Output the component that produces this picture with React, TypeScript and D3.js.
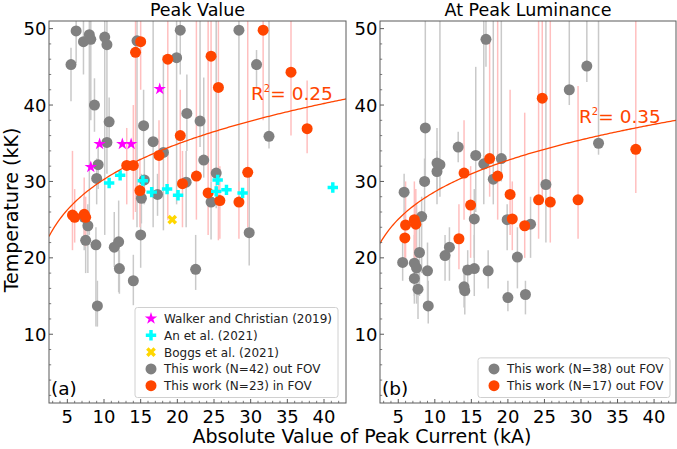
import React from "react";
import * as d3 from "d3";

const W = 677;
const H = 449;
const X_DOMAIN: [number, number] = [2.5, 43];
const Y_DOMAIN: [number, number] = [1, 51];
const X_TICKS = [5, 10, 15, 20, 25, 30, 35, 40];
const Y_TICKS = [10, 20, 30, 40, 50];

// [peak current (kA), temperature (kK), lower bound, upper bound]
type Obs = [number, number, number, number];

const peakOutFov: Obs[] = [
  [5.5, 45.3, 40.5, 47.5], [6.2, 49.7, 45.5, 51], [7.2, 48.3, 44, 51], [8.0, 49.2, 23, 51],
  [8.2, 48.6, 38, 51], [8.7, 40.0, 36.5, 43.5], [10.1, 48.9, 23, 51], [10.4, 47.9, 40, 51],
  [10.7, 37.8, 35, 41], [10.4, 35.1, 31, 40], [9.2, 32.2, 29, 35], [9.0, 30.4, 27, 33],
  [14.5, 48.4, 24, 51], [15.4, 37.3, 33, 42], [15.5, 30.2, 27, 33], [15.1, 27.8, 24.5, 31],
  [16.7, 35.2, 24, 51], [18.1, 33.8, 23.6, 46.5], [17.3, 28.3, 25.5, 31], [19.9, 46.2, 27, 51],
  [20.4, 49.8, 44, 51], [21.3, 38.9, 34, 44], [21.2, 29.9, 24, 34], [23.1, 37.9, 34.5, 51],
  [23.6, 32.8, 30.5, 43.6], [25.3, 31.1, 26.5, 51], [24.6, 27.3, 22.4, 30], [28.4, 49.8, 27, 51],
  [30.8, 45.3, 42.3, 47.2], [32.5, 35.9, 34.3, 51], [7.8, 24.2, 18, 27], [7.5, 22.3, 18, 25],
  [8.9, 21.7, 11, 24], [9.1, 13.7, 11, 17], [11.4, 21.4, 18.8, 26], [12.0, 22.1, 15.5, 27.5],
  [12.1, 18.6, 15.3, 21], [14.0, 17.0, 13.8, 20.4], [15.0, 23.0, 18.7, 27], [22.5, 18.5, 15.8, 23],
  [29.8, 23.3, 19, 31], [7.3, 25.3, 21, 28],
];

const peakInFov: Obs[] = [
  [5.7, 25.6, 21, 34], [6.0, 25.3, 22, 29], [7.3, 25.7, 22.5, 30.5], [7.5, 25.3, 21.5, 28],
  [14.3, 46.9, 26, 51], [15.0, 48.3, 42, 51], [18.7, 46.0, 25, 51], [20.4, 36.0, 30, 42],
  [17.5, 33.4, 28, 38], [13.1, 32.1, 27, 37], [14.0, 32.1, 25, 40], [14.9, 28.8, 24, 33],
  [20.7, 29.7, 24, 34], [22.6, 30.7, 25, 51], [24.2, 28.5, 23, 51], [24.6, 46.4, 30, 51],
  [25.6, 42.3, 22.3, 51], [25.8, 27.5, 22.5, 32], [28.4, 27.3, 22.5, 30], [29.6, 31.2, 24, 51],
  [31.7, 49.8, 38, 51], [35.5, 44.3, 36, 51], [37.7, 36.9, 33.7, 43.2],
];

const walker: [number, number][] = [
  [8.2, 31.9], [9.4, 34.9], [12.5, 34.9], [13.7, 34.9], [17.6, 42.1],
];

const anEtAl: [number, number][] = [
  [10.7, 29.8], [12.2, 30.8], [15.3, 30.1], [16.5, 28.6], [18.6, 29.0], [20.1, 28.2],
  [25.5, 30.2], [25.3, 28.7], [26.7, 28.9], [28.9, 28.5], [41.2, 29.2],
];

const boggs: [number, number][] = [[19.3, 25.0]];

const lumOutFov: Obs[] = [
  [5.8, 28.6, 25, 31], [8.6, 30.0, 26, 33], [8.7, 37.0, 30, 51], [10.3, 32.4, 29, 37],
  [10.7, 32.2, 28, 51], [10.3, 31.3, 27, 34], [13.2, 34.5, 32.5, 36.5], [15.6, 33.4, 26, 45],
  [16.7, 32.3, 27, 51], [17.0, 48.6, 45, 51], [19.1, 33.0, 30, 51], [18.0, 30.3, 27, 51],
  [8.2, 25.4, 18, 28], [5.6, 19.4, 17, 22], [7.2, 19.3, 15, 23], [7.5, 18.7, 14, 27],
  [7.2, 17.3, 14, 20], [7.9, 20.7, 15, 25], [7.7, 15.9, 12, 19], [9.0, 18.3, 13, 22],
  [9.1, 13.7, 11.4, 17], [11.4, 20.3, 17, 23], [12.0, 21.4, 17, 24], [14.0, 16.2, 13.5, 19],
  [14.1, 15.7, 12.6, 19], [14.5, 18.4, 15, 21], [15.4, 18.6, 15, 23], [15.4, 25.1, 20, 29],
  [17.3, 18.3, 16, 21], [19.9, 25.0, 21, 27], [20.0, 14.8, 13, 17], [21.3, 20.1, 16, 24],
  [22.4, 15.2, 12.6, 17], [23.1, 24.4, 20, 28], [25.2, 29.6, 22, 51], [28.4, 42.0, 40, 51],
  [30.8, 45.1, 43, 51], [32.4, 35.0, 33.5, 51],
];

const lumInFov: Obs[] = [
  [14.0, 31.1, 25, 38], [17.5, 33.0, 28, 49], [18.6, 30.7, 25, 51], [20.3, 28.3, 23, 42],
  [14.9, 26.9, 20, 32], [6.0, 24.3, 20, 30], [5.9, 22.6, 20, 26], [7.2, 25.0, 20, 30],
  [7.4, 24.4, 19, 29], [13.3, 22.5, 18.5, 27], [20.6, 25.1, 21, 30], [22.3, 24.2, 20, 39],
  [24.7, 40.9, 27, 51], [37.5, 34.2, 28.5, 51], [24.2, 27.6, 22.5, 51], [25.8, 27.3, 22, 51],
  [29.6, 27.6, 22.5, 42.5],
];

// Power-law fits T = a * I^b
const fitPeak = { a: 18.9, b: 0.2046, r2: "0.25" };
const fitLum = { a: 18.34, b: 0.1937, r2: "0.35" };

const GRAY = "#808080";
const RED = "#ff4500";
const GRAY_ERR = "#c9c9c9";
const RED_ERR = "#ffbfbf";
const FRAME = "#5a5a5a";
const FONT = "DejaVu Sans, sans-serif";

const TOP = 21;
const BOTTOM = 403;

const starPath = d3.symbol().type(d3.symbolStar).size(48)()!;
const plusPath = d3.symbol().type(d3.symbolCross).size(60)()!;
const circleR = 5.5;

type LegendItem = { label: string; kind: "star" | "plus" | "x" | "gray" | "red" };

const Marker = ({ kind, cx, cy }: { kind: LegendItem["kind"]; cx: number; cy: number }) => {
  if (kind === "star") return <path d={starPath} transform={`translate(${cx},${cy})`} fill="#ff00ff" />;
  if (kind === "plus") return <path d={plusPath} transform={`translate(${cx},${cy})`} fill="#00ffff" />;
  if (kind === "x") return <path d={plusPath} transform={`translate(${cx},${cy}) rotate(45)`} fill="#ffd700" />;
  return <circle cx={cx} cy={cy} r={circleR} fill={kind === "gray" ? GRAY : RED} />;
};

type PanelProps = {
  id: string;
  x0: number;
  x1: number;
  title: string;
  tag: string;
  out: Obs[];
  inn: Obs[];
  fit: { a: number; b: number; r2: string };
  r2x: number;
  r2y: number;
  legend: LegendItem[];
  legendX: number;
  legendW: number;
  extras?: boolean;
};

const Panel = (p: PanelProps) => {
  const x = d3.scaleLinear().domain(X_DOMAIN).range([p.x0, p.x1]);
  const y = d3.scaleLinear().domain(Y_DOMAIN).range([BOTTOM, TOP]);
  const fitXs = d3.range(X_DOMAIN[0], X_DOMAIN[1] + 0.01, 0.25);
  const fitLine = d3
    .line<number>()
    .x((d) => x(d))
    .y((d) => y(p.fit.a * Math.pow(d, p.fit.b)))(fitXs)!;
  const minorX = d3.range(3, 43).filter((v) => v % 5 !== 0);
  const minorY = d3.range(2, 51, 2).filter((v) => v % 10 !== 0);
  const rowH = 16.8;
  const legendH = p.legend.length * rowH + 6;
  const legendTop = 397.5 - legendH;

  return (
    <g>
      <defs>
        <clipPath id={p.id}>
          <rect x={p.x0} y={TOP} width={p.x1 - p.x0} height={BOTTOM - TOP} />
        </clipPath>
      </defs>
      <rect x={p.x0} y={TOP} width={p.x1 - p.x0} height={BOTTOM - TOP} fill="white" />
      <g clipPath={`url(#${p.id})`}>
        {p.out.map((d, i) => (
          <line key={`ge${i}`} x1={x(d[0])} x2={x(d[0])} y1={y(d[2])} y2={y(d[3])} stroke={GRAY_ERR} strokeWidth={1.5} />
        ))}
        {p.inn.map((d, i) => (
          <line key={`re${i}`} x1={x(d[0])} x2={x(d[0])} y1={y(d[2])} y2={y(d[3])} stroke={RED_ERR} strokeWidth={1.5} />
        ))}
        {p.out.map((d, i) => (
          <circle key={`g${i}`} cx={x(d[0])} cy={y(d[1])} r={circleR} fill={GRAY} />
        ))}
        {p.inn.map((d, i) => (
          <circle key={`r${i}`} cx={x(d[0])} cy={y(d[1])} r={circleR} fill={RED} />
        ))}
        {p.extras && (
          <g>
            {walker.map((d, i) => (
              <Marker key={`w${i}`} kind="star" cx={x(d[0])} cy={y(d[1])} />
            ))}
            {anEtAl.map((d, i) => (
              <Marker key={`a${i}`} kind="plus" cx={x(d[0])} cy={y(d[1])} />
            ))}
            {boggs.map((d, i) => (
              <Marker key={`b${i}`} kind="x" cx={x(d[0])} cy={y(d[1])} />
            ))}
          </g>
        )}
        <path d={fitLine} fill="none" stroke={RED} strokeWidth={1.3} />
      </g>
      <text x={p.r2x} y={p.r2y} fill={RED} fontSize={18.5} fontFamily={FONT}>
        R<tspan fontSize={10} dy={-8}>2</tspan>
        <tspan dy={8}>= {p.fit.r2}</tspan>
      </text>
      {/* axis frame */}
      <rect x={p.x0} y={TOP} width={p.x1 - p.x0} height={BOTTOM - TOP} fill="none" stroke={FRAME} strokeWidth={1} />
      {/* ticks pointing inward */}
      {X_TICKS.map((t) => (
        <g key={`xt${t}`}>
          <line x1={x(t)} x2={x(t)} y1={BOTTOM} y2={BOTTOM - 4} stroke={FRAME} />
          <text x={x(t)} y={422.5} textAnchor="middle" fontSize={18} fontFamily={FONT} fill="#000">
            {t}
          </text>
        </g>
      ))}
      {minorX.map((t) => (
        <line key={`xm${t}`} x1={x(t)} x2={x(t)} y1={BOTTOM} y2={BOTTOM - 2.2} stroke={FRAME} strokeWidth={0.8} />
      ))}
      {Y_TICKS.map((t) => (
        <g key={`yt${t}`}>
          <line x1={p.x0} x2={p.x0 + 4} y1={y(t)} y2={y(t)} stroke={FRAME} />
          <text x={p.x0 - 2.5} y={y(t) + 6.5} textAnchor="end" fontSize={18} fontFamily={FONT} fill="#000">
            {t}
          </text>
        </g>
      ))}
      {minorY.map((t) => (
        <line key={`ym${t}`} x1={p.x0} x2={p.x0 + 2.2} y1={y(t)} y2={y(t)} stroke={FRAME} strokeWidth={0.8} />
      ))}
      <text x={(p.x0 + p.x1) / 2} y={16} textAnchor="middle" fontSize={17.5} fontFamily={FONT} fill="#000">
        {p.title}
      </text>
      <text x={p.x0 + 2} y={395} fontSize={18.5} fontFamily={FONT} fill="#000">
        {p.tag}
      </text>
      {/* legend */}
      <rect
        x={p.legendX}
        y={legendTop}
        width={p.legendW}
        height={legendH}
        rx={2.5}
        fill="white"
        fillOpacity={0.85}
        stroke="#d0d0d0"
        strokeWidth={1}
      />
      {p.legend.map((item, i) => {
        const cy = legendTop + 11 + i * rowH;
        return (
          <g key={`lg${i}`}>
            <Marker kind={item.kind} cx={p.legendX + 16} cy={cy} />
            <text x={p.legendX + 29} y={cy + 4.5} fontSize={12} fontFamily={FONT} fill="#222">
              {item.label}
            </text>
          </g>
        );
      })}
    </g>
  );
};

const legendPeak: LegendItem[] = [
  { label: "Walker and Christian (2019)", kind: "star" },
  { label: "An et al. (2021)", kind: "plus" },
  { label: "Boggs et al. (2021)", kind: "x" },
  { label: "This work (N=42) out FOV", kind: "gray" },
  { label: "This work (N=23) in FOV", kind: "red" },
];

const legendLum: LegendItem[] = [
  { label: "This work (N=38) out FOV", kind: "gray" },
  { label: "This work (N=17) out FOV", kind: "red" },
];

export default function App() {
  return (
    <svg
      width={W}
      height={H}
      viewBox={`0 0 ${W} ${H}`}
      style={{ position: "absolute", left: 0, top: 0, background: "white" }}
    >
      <Panel
        id="clipPeak"
        x0={49}
        x1={346}
        title="Peak Value"
        tag="(a)"
        out={peakOutFov}
        inn={peakInFov}
        fit={fitPeak}
        r2x={251}
        r2y={100}
        legend={legendPeak}
        legendX={135}
        legendW={203}
        extras
      />
      <Panel
        id="clipLum"
        x0={380}
        x1={676}
        title="At Peak Luminance"
        tag="(b)"
        out={lumOutFov}
        inn={lumInFov}
        fit={fitLum}
        r2x={579}
        r2y={123}
        legend={legendLum}
        legendX={478}
        legendW={192}
      />
      <text x={362} y={443} textAnchor="middle" fontSize={19} fontFamily={FONT} fill="#000">
        Absolute Value of Peak Current (kA)
      </text>
      <text
        transform="translate(17.5,210) rotate(-90)"
        textAnchor="middle"
        fontSize={19}
        fontFamily={FONT}
        fill="#000"
      >
        Temperature (kK)
      </text>
    </svg>
  );
}
